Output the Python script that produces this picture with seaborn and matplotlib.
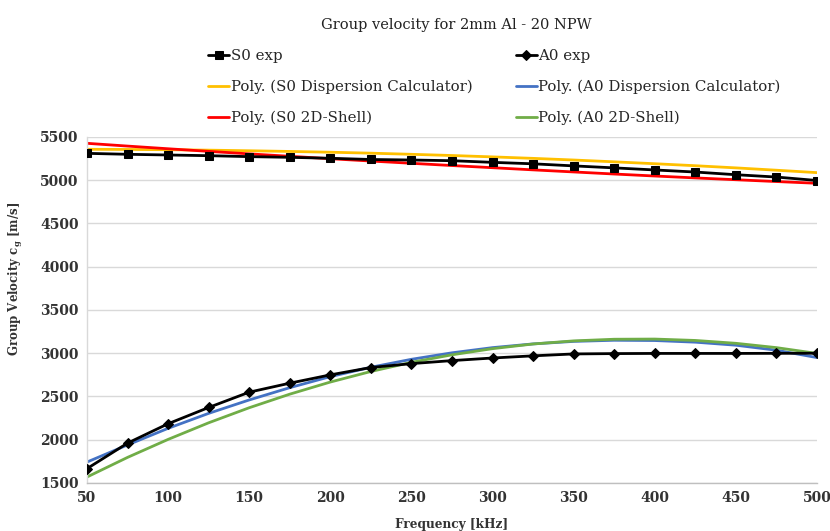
import matplotlib
matplotlib.use("Agg")
import matplotlib.pyplot as plt
import seaborn as sns
import pandas as pd

freq = [50, 75, 100, 125, 150, 175, 200, 225, 250, 275, 300, 325, 350, 375, 400, 425, 450, 475, 500]

s0_exp = [5311, 5300, 5292, 5284, 5273, 5265, 5254, 5240, 5234, 5226, 5207, 5190, 5166, 5143, 5119, 5095, 5064, 5037, 4997]
a0_exp = [1666, 1961, 2185, 2373, 2550, 2654, 2750, 2835, 2880, 2915, 2945, 2970, 2992, 2996, 2998, 2998, 2998, 2999, 3000]

s0_dc = [5358, 5356, 5353, 5348, 5341, 5333, 5324, 5313, 5300, 5286, 5270, 5253, 5234, 5213, 5191, 5168, 5143, 5116, 5088]
s0_shell = [5427, 5395, 5364, 5334, 5305, 5277, 5249, 5222, 5196, 5170, 5145, 5120, 5096, 5072, 5049, 5027, 5006, 4985, 4965]
a0_dc = [1742, 1940, 2132, 2305, 2460, 2602, 2730, 2838, 2930, 3005, 3065, 3108, 3137, 3150, 3147, 3128, 3093, 3035, 2950]
a0_shell = [1569, 1796, 2004, 2196, 2370, 2527, 2667, 2789, 2895, 2982, 3053, 3107, 3143, 3162, 3164, 3148, 3115, 3065, 2998]

labels = ["S0 exp", "A0 exp", "Poly. (S0 Dispersion Calculator)",
          "Poly. (A0 Dispersion Calculator)", "Poly. (S0 2D-Shell)", "Poly. (A0 2D-Shell)"]
x_ticks = [50, 100, 150, 200, 250, 300, 350, 400, 450, 500]
y_ticks = [1500, 2000, 2500, 3000, 3500, 4000, 4500, 5000, 5500]

sns.set_theme(style="white")
plt.rcParams['font.family'] = ['DejaVu Serif']
plt.rcParams['mathtext.fontset'] = 'dejavuserif'

fig = plt.figure(figsize=(8.3, 5.31), dpi=100)
ax = fig.add_axes([0.1048, 0.0904, 0.8795, 0.6516])

series = [
    (s0_exp, labels[0], "black", "s", 6.0),
    (a0_exp, labels[1], "black", "D", 5.0),
    (s0_dc, labels[2], "#FFC000", None, 0),
    (a0_dc, labels[3], "#4472C4", None, 0),
    (s0_shell, labels[4], "#FF0000", None, 0),
    (a0_shell, labels[5], "#70AD47", None, 0),
]
for vals, lab, col, mk, ms in series:
    d = pd.DataFrame({"f": freq, "v": vals})
    sns.lineplot(data=d, x="f", y="v", ax=ax, color=col, linewidth=2.0,
                 marker=mk, markersize=ms, markeredgecolor=col, label=lab,
                 zorder=3 if mk else 2)

ax.set_xlim(50, 500)
ax.set_ylim(1500, 5500)
ax.set_xticks(x_ticks)
ax.set_yticks(y_ticks)
ax.tick_params(axis='both', length=0, labelsize=10, pad=6)
for t in ax.get_xticklabels() + ax.get_yticklabels():
    t.set_fontweight('bold')
    t.set_color('#333333')
ax.grid(axis='y', color='#d9d9d9', linewidth=1)
ax.grid(axis='x', visible=False)
for s in ['top', 'right']:
    ax.spines[s].set_visible(False)
ax.spines['left'].set_color('#d9d9d9')
ax.spines['bottom'].set_color('#bfbfbf')
ax.spines['left'].set_linewidth(1)
ax.spines['bottom'].set_linewidth(1)

ax.set_xlabel("Frequency [kHz]", fontsize=8.7, fontweight='bold', color='#333333', labelpad=9)
ax.set_ylabel(r"Group Velocity c$_\mathbf{g}$ [m/s]", fontsize=8.5, fontweight='bold', color='#333333')
ax.yaxis.set_label_coords(-0.085, 0.59)

h, l = ax.get_legend_handles_labels()
order = [0, 2, 4, 1, 3, 5]
ax.legend([h[i] for i in order], [l[i] for i in order], ncol=2, loc='upper left',
          bbox_to_anchor=(208 / 830, 1 - 49 / 531), bbox_transform=fig.transFigure,
          frameon=False, fontsize=10.8, handlelength=1.4, handletextpad=0.1,
          columnspacing=2.9, labelspacing=1.1, borderaxespad=0, borderpad=0)

fig.text(456 / 830, 1 - 25 / 531, "Group velocity for 2mm Al - 20 NPW", ha='center', va='center',
         fontsize=10.5, color='#222222')

fig.savefig("out.png", dpi=100)
